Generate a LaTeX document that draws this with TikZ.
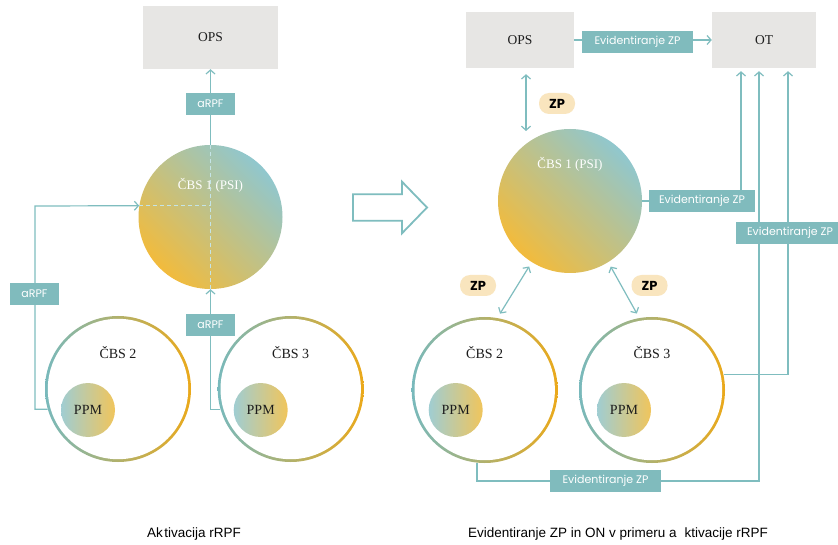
\documentclass[tikz,border=0pt]{standalone}
\usepackage{fontspec}
\setmainfont{Liberation Serif}
\newfontfamily\tagfont{Poppins}
\newfontfamily\capfont{Liberation Sans}
\usetikzlibrary{arrows.meta,calc}

\definecolor{lineteal}{HTML}{7FBDBF}
\definecolor{tagteal}{HTML}{80BBBD}
\definecolor{boxgrey}{HTML}{E7E6E4}
\definecolor{pillsand}{HTML}{F9E5BE}
\definecolor{diskteal}{HTML}{90C7CE}
\definecolor{diskyellow}{HTML}{F2BB3C}
\definecolor{ringteal}{HTML}{78B9BC}
\definecolor{ringorange}{HTML}{EBA91A}
\definecolor{ppmteal}{HTML}{A0CDD2}
\definecolor{ppmyellow}{HTML}{F0C55C}
\definecolor{dashcol}{HTML}{C4E4E6}
\definecolor{inktext}{HTML}{1C1C1C}

\tikzset{
  greybox/.style={fill=boxgrey, inner sep=0pt, text=inktext,
    font=\fontsize{13.5}{15}\selectfont},
  disk/.style={circle, minimum size=144pt, inner sep=0pt,
    top color=diskteal, bottom color=diskyellow, shading angle=-45},
  disktext/.style={text=white, font=\fontsize{13}{15}\selectfont},
  ring/.style={circle, minimum size=146pt, inner sep=0pt,
    path picture={
      \shade[left color=ringteal, right color=ringorange]
        (path picture bounding box.south west) rectangle (path picture bounding box.north east);
      \fill[white] (path picture bounding box.center) circle[radius=70.2pt];}},
  ringtext/.style={text=inktext, font=\fontsize{14}{15}\selectfont},
  ppm/.style={circle, minimum size=54pt, inner sep=0pt,
    left color=ppmteal, right color=ppmyellow, text=inktext,
    font=\fontsize{14}{15}\selectfont},
  tag/.style={fill=tagteal, text=white, inner sep=0pt, minimum height=22pt,
    font=\tagfont\fontsize{11}{12}\selectfont},
  pill/.style={fill=pillsand, text=black, inner sep=0pt, rounded corners=10pt,
    minimum width=36pt, minimum height=21pt,
    font=\tagfont\bfseries\fontsize{13}{14}\selectfont},
  link/.style={draw=lineteal, line width=1.2pt},
  arr/.style={link, -{Straight Barb[length=4pt,width=9pt]}},
  dbl/.style={link, {Straight Barb[length=4pt,width=9pt]}-{Straight Barb[length=4pt,width=9pt]}},
  guide/.style={draw=dashcol, line width=1pt, dash pattern=on 4pt off 3pt},
  bigarrow/.style={draw=lineteal, line width=1.8pt, fill=white, line join=miter},
  caption/.style={text=black, font=\capfont\fontsize{13.5}{15}\selectfont}
}

\begin{document}
\begin{tikzpicture}[x=1pt, y=-1pt]
\path[use as bounding box, fill=white] (0,0) rectangle (838,545);

% ---------------- left panel: activation ----------------
\node[greybox, minimum width=135pt, minimum height=63pt] (opsL) at (210.5,37.5) {OPS};
\node[disk] (c1L) at (210.5,217) {};
\node[disktext] (c1Ltxt) at ($(c1L.center)+(0,-32)$) {ČBS 1 (PSI)};
\node[ring] (cbs2L) at (118,389) {};
\node[ring] (cbs3L) at (290.7,389) {};
\node[ringtext] (cbs2Ltxt) at ($(cbs2L.center)+(0,-36)$) {ČBS 2};
\node[ringtext] (cbs3Ltxt) at ($(cbs3L.center)+(0,-36)$) {ČBS 3};
\node[ppm] (ppm2L) at ($(cbs2L.center)+(-30,21)$) {PPM};
\node[ppm] (ppm3L) at ($(cbs3L.center)+(-30,21)$) {PPM};

% dashed guides through the central disk
\draw[guide] (c1L.171) -- (c1L.center |- c1L.171);
\draw[guide] (c1L.north) -- (c1L.south);

% activation flows
\coordinate (lbend) at (35,206);
\draw[arr] (c1L.north) -- (opsL.south);
\draw[arr] (cbs2L.196) -| (lbend) -- (c1L.171);
\draw[arr] (cbs3L.196) -| (c1L.south);

\node[tag, minimum width=49pt] (tagA) at (210.5,104) {aRPF};
\node[tag, minimum width=49pt] (tagB) at (34.5,294) {aRPF};
\node[tag, minimum width=49pt] (tagC) at (210.5,325) {aRPF};

\node[caption] (capL) at (194,534) {Ak\kern1.5pt tivacija rRPF};

% ---------------- transition arrow ----------------
\draw[bigarrow] (353,194.3) -- (402,194.3) -- (402,181.7) -- (427,207.5)
  -- (402,233.3) -- (402,220.7) -- (353,220.7) -- cycle;

% ---------------- right panel: recording ----------------
\node[greybox, minimum width=108pt, minimum height=56pt] (opsR) at (520,40) {OPS};
\node[greybox, minimum width=104pt, minimum height=56pt] (ot) at (764,40) {OT};
\node[disk] (c1R) at (570,201) {};
\node[disktext] (c1Rtxt) at ($(c1R.center)+(0,-37)$) {ČBS 1 (PSI)};
\node[ring] (cbs2R) at (484.7,390) {};
\node[ring] (cbs3R) at (652,390) {};
\node[ringtext] (cbs2Rtxt) at ($(cbs2R.center)+(0,-37)$) {ČBS 2};
\node[ringtext] (cbs3Rtxt) at ($(cbs3R.center)+(0,-37)$) {ČBS 3};
\node[ppm] (ppm2R) at ($(cbs2R.center)+(-29,20)$) {PPM};
\node[ppm] (ppm3R) at ($(cbs3R.center)+(-28,20)$) {PPM};

% data exchange
\coordinate (zpEnd) at (526,131);
\draw[arr] (opsR.east) -- (ot.west);
\draw[dbl] ([xshift=6pt,yshift=-6pt]opsR.south) -- (zpEnd);
\draw[dbl, shorten <=5pt, shorten >=5pt] (c1R.238) -- (cbs2R.80);
\draw[dbl, shorten <=5pt, shorten >=5pt] (c1R.302) -- (cbs3R.100);

% recording towards OT
\coordinate (botbend) at (759,481);
\draw[arr, shorten >=3pt] (c1R.east) -| ([xshift=-23pt]ot.south);
\draw[arr, shorten >=3pt] (cbs2R.264) |- (botbend) -- ([xshift=-5pt]ot.south);
\draw[arr, shorten >=3pt] (cbs3R.12) -| ([xshift=24pt]ot.south);

\node[tag, minimum width=111pt] (evA) at (637.5,42) {Evidentiranje ZP};
\node[tag, minimum width=106pt] (evB) at (702,201) {Evidentiranje ZP};
\node[tag, minimum width=108pt] (evC) at (790,233) {Evidentiranje ZP};
\node[tag, minimum width=111pt] (evD) at (605.5,481) {Evidentiranje ZP};

\node[pill] (zpA) at (557,103.5) {ZP};
\node[pill] (zpB) at (478,285.5) {ZP};
\node[pill] (zpC) at (649.5,285.5) {ZP};

\node[caption] (capR) at (618,534) {Evidentiranje ZP in ON v primeru a\hspace{0.6em}ktivacije rRPF};
\end{tikzpicture}
\end{document}
